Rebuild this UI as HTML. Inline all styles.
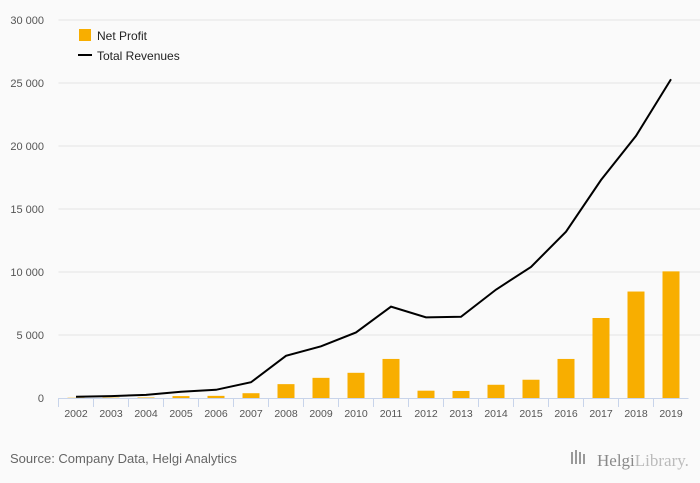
<!DOCTYPE html>
<html><head><meta charset="utf-8"><style>
body{margin:0;background:#fafafa;font-family:"Liberation Sans",sans-serif;}
svg{display:block}
</style></head><body>
<svg id="chart" width="700" height="483">
<g id="grid"></g>
<g id="yaxis"></g>
<g id="xaxis"></g>
<g id="bars"></g>
<g id="line"></g>
<g>
 <rect x="79" y="29" width="12" height="12" fill="#f8ae00"/>
 <text x="97" y="40" font-size="12" fill="#222">Net Profit</text>
 <line x1="78" y1="55" x2="92" y2="55" stroke="#000" stroke-width="2"/>
 <text x="97" y="60" font-size="12" fill="#222">Total Revenues</text>
</g>
<text x="10" y="463" font-size="13" fill="#666">Source: Company Data, Helgi Analytics</text>
<g>
 <rect x="571" y="452" width="2" height="12" fill="#999"/><rect x="575" y="450" width="2" height="14" fill="#999"/><rect x="579" y="452" width="2" height="12" fill="#999"/><rect x="583" y="454" width="2" height="10" fill="#999"/>
 <text x="597" y="466" font-size="17" fill="#888" font-family="Liberation Serif,serif">Helgi<tspan fill="#bbb">Library.</tspan></text>
</g>
</svg>
<script>
const years=["2002","2003","2004","2005","2006","2007","2008","2009","2010","2011","2012","2013","2014","2015","2016","2017","2018","2019"];
const netProfit=[20,30,40,150,170,380,1100,1600,2000,3100,580,560,1050,1450,3100,6350,8450,10050];
const totalRevenues=[100,150,250,500,650,1250,3350,4100,5200,7250,6400,6450,8600,10400,13200,17300,20800,25300];
const yTicks=[0,5000,10000,15000,20000,25000,30000];
const yTickLabels=["0","5 000","10 000","15 000","20 000","25 000","30 000"];
const NS="http://www.w3.org/2000/svg";
const x0=58.5,step=35,yBase=398,yTop=20,yMax=30000;
const xc=i=>x0+step*(i+0.5);
const y=v=>yBase-(v/yMax)*(yBase-yTop);
function mk(tag,attrs,parent){const e=document.createElementNS(NS,tag);for(const k in attrs)e.setAttribute(k,attrs[k]);document.getElementById(parent).appendChild(e);return e;}
yTicks.forEach((t,i)=>{
 if(t>0){const g=mk('line',{x1:x0,x2:700,y1:y(t),y2:y(t),stroke:'#e4e4e4','stroke-width':1},'grid');
 
 }
 const l=mk('text',{x:44,y:y(t)+4,'font-size':11,fill:'#555','text-anchor':'end'},'yaxis');
 l.textContent=yTickLabels[i];
 
 
});
mk('line',{x1:x0,x2:x0+step*years.length,y1:yBase+0.5,y2:yBase+0.5,stroke:'#c8d4ea','stroke-width':1},'xaxis');
years.forEach((yr,i)=>{
 const tk=mk('line',{x1:x0+step*i,x2:x0+step*i,y1:yBase,y2:yBase+9,stroke:'#c8d4ea'},'xaxis');
 
 
 const t=mk('text',{x:xc(i),y:yBase+19,'font-size':10.5,fill:'#555','text-anchor':'middle'},'xaxis');
 t.textContent=yr;
 
 
 const b=mk('rect',{x:xc(i)-8.5,y:y(netProfit[i]),width:17,height:yBase-y(netProfit[i]),fill:'#f8ae00'},'bars');
 
 
});
const p=mk('polyline',{points:totalRevenues.map((v,i)=>xc(i)+','+y(v)).join(' '),fill:'none',stroke:'#000','stroke-width':2},'line');


</script>
</body></html>
